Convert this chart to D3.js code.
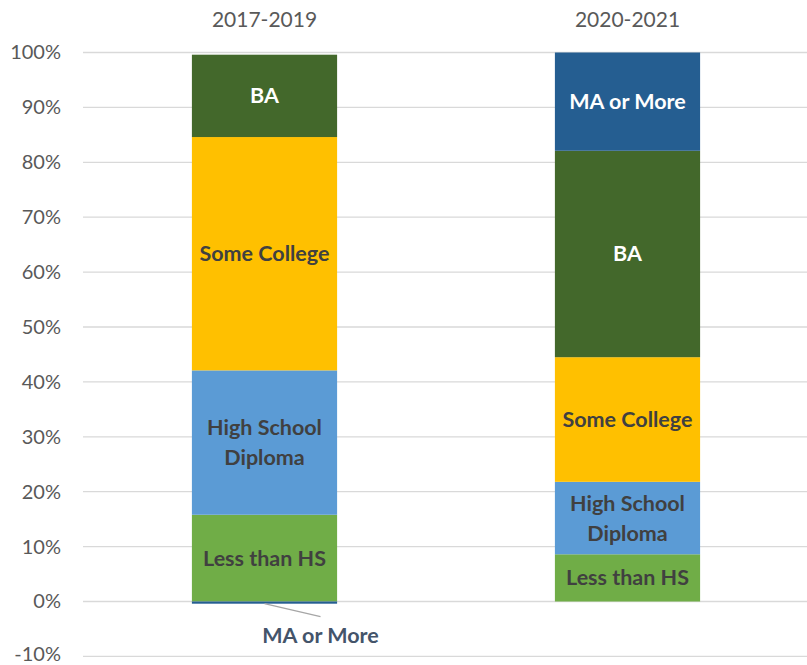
<!DOCTYPE html>
<html><head><meta charset="utf-8">
<script src="https://cdn.jsdelivr.net/npm/d3@7"></script>
<style>body{margin:0;background:#fff}svg{display:block}</style>
</head><body>
<svg id="c" width="807" height="665"></svg>
<script>
const periods = ["2017-2019", "2020-2021"];
const levels = ["Less than HS", "High School Diploma", "Some College", "BA", "MA or More"];
const maOrMore = [-0.4, 17.9];
const lessThanHS = [15.8, 8.6];
const highSchool = [26.3, 13.2];
const someCollege = [42.5, 22.7];
const ba = [15.0, 37.6];
const yTicks = [-10, 0, 10, 20, 30, 40, 50, 60, 70, 80, 90, 100];

const colors = {"MA or More":"#255E91","Less than HS":"#70AD47","High School Diploma":"#5B9BD5","Some College":"#FFC000","BA":"#43682B"};
const textColors = {"MA or More":"#ffffff","Less than HS":"#404040","High School Diploma":"#404040","Some College":"#404040","BA":"#ffffff"};
const series = {"MA or More":maOrMore,"Less than HS":lessThanHS,"High School Diploma":highSchool,"Some College":someCollege,"BA":ba};

const FONT = "Lato, 'Open Sans', sans-serif";
const svg = d3.select("#c");
const x = d3.scaleBand().domain(periods).range([83, 809]).paddingInner(0.6).paddingOuter(0.3);
const y = d3.scaleLinear().domain([-10, 100]).range([656.4, 52.5]);

// gridlines
svg.append("g").selectAll("line").data(yTicks).join("line")
  .attr("x1", 83).attr("x2", 807)
  .attr("y1", d => y(d)).attr("y2", d => y(d))
  .attr("stroke", "#d9d9d9").attr("stroke-width", 1.3);

// y axis labels
const yAxis = d3.axisLeft(y).tickValues(yTicks).tickFormat(d => d + "%").tickSize(0).tickPadding(0);
const ga = svg.append("g").attr("transform", "translate(61,0)").call(yAxis);
ga.select(".domain").remove();
ga.selectAll("text").attr("font-family", FONT).attr("font-size", 20).attr("fill", "#595959")
  .attr("dy", d => d === -10 ? "0.2em" : "0.32em");

// category labels on top
svg.append("g").selectAll("text").data(periods).join("text")
  .attr("x", d => x(d) + x.bandwidth() / 2).attr("y", 27)
  .attr("text-anchor", "middle")
  .attr("font-family", FONT).attr("font-size", 21).attr("fill", "#595959")
  .text(d => d);

// stacked segments
const segs = [];
periods.forEach((p, i) => {
  let pos = 0, neg = 0;
  levels.forEach(l => {
    const v = series[l][i];
    let y0, y1;
    if (v >= 0) { y0 = pos; y1 = pos + v; pos = y1; } else { y0 = neg + v; y1 = neg; neg = y0; }
    segs.push({p, l, v, y0, y1});
  });
});

svg.append("g").selectAll("rect").data(segs).join("rect")
  .attr("x", d => x(d.p)).attr("width", x.bandwidth())
  .attr("y", d => y(d.y1)).attr("height", d => Math.max(1.5, y(d.y0) - y(d.y1)))
  .attr("fill", d => colors[d.l]);

// labels
const lab = svg.append("g").attr("font-family", FONT).attr("font-weight", "bold").attr("font-size", 21.5).attr("text-anchor", "middle");
segs.forEach(d => {
  const cx = x(d.p) + x.bandwidth() / 2;
  if (d.v < 2) {
    const yb = y(d.y0);
    svg.append("line").attr("x1", cx).attr("y1", yb).attr("x2", cx + 56).attr("y2", yb + 13)
      .attr("stroke", "#a6a6a6").attr("stroke-width", 1.3);
    lab.append("text").attr("x", cx + 56).attr("y", yb + 39).attr("fill", "#44546A").text(d.l);
    return;
  }
  const cy = (y(d.y0) + y(d.y1)) / 2;
  const lines = d.l === "High School Diploma" ? ["High School", "Diploma"] : [d.l];
  const lh = 30;
  lines.forEach((t, k) => {
    lab.append("text").attr("x", cx).attr("y", cy + (k - (lines.length - 1) / 2) * lh + 7.5)
      .attr("fill", textColors[d.l]).text(t);
  });
});
</script>
</body></html>
